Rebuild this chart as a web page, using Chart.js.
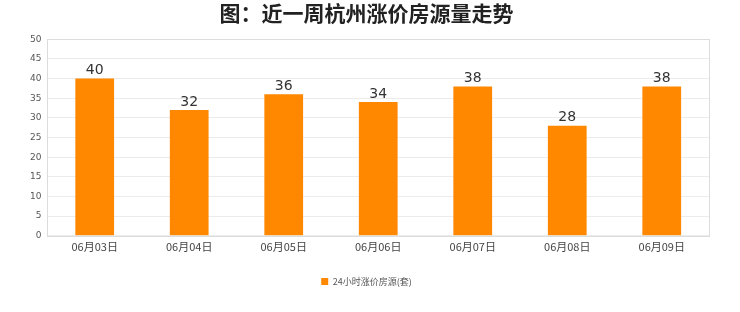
<!DOCTYPE html>
<html>
<head>
<meta charset="utf-8">
<script src="https://cdn.jsdelivr.net/npm/chart.js@4/dist/chart.umd.min.js"></script>
<style>
  html, body { margin: 0; padding: 0; background: #fff; }
  #wrap { width: 740px; height: 312px; }
</style>
</head>
<body>
<div id="wrap"><canvas id="chart" width="740" height="312"></canvas></div>
<script>
const categories = ["06月03日", "06月04日", "06月05日", "06月06日", "06月07日", "06月08日", "06月09日"];
const values = [40, 32, 36, 34, 38, 28, 38];
const seriesName = "24小时涨价房源(套)";
const titleText = "图：近一周杭州涨价房源量走势";

// value labels above each bar
const valueLabels = {
    id: "valueLabels",
    afterDatasetsDraw(chart) {
        const ctx = chart.ctx;
        const meta = chart.getDatasetMeta(0);
        ctx.save();
        ctx.font = "14px 'DejaVu Sans', sans-serif";
        ctx.fillStyle = "#333";
        ctx.textAlign = "center";
        ctx.textBaseline = "bottom";
        meta.data.forEach((bar, i) => {
            ctx.fillText(values[i], bar.x, bar.y - 1);
        });
        ctx.restore();
    }
};

// box around the plot
const plotBox = {
    id: "plotBox",
    afterDraw(chart) {
        const a = chart.chartArea;
        const ctx = chart.ctx;
        ctx.save();
        ctx.strokeStyle = "#dcdcdc";
        ctx.lineWidth = 1;
        ctx.strokeRect(Math.round(a.left) + 0.5, Math.round(a.top) + 0.5,
            Math.round(a.right - a.left), Math.round(a.bottom - a.top));
        ctx.restore();
    }
};

new Chart(document.getElementById("chart").getContext("2d"), {
    type: "bar",
    data: {
        labels: categories,
        datasets: [{
            label: seriesName,
            data: values,
            backgroundColor: "#ff8800",
            borderWidth: 0,
            categoryPercentage: 1,
            barPercentage: 0.41
        }]
    },
    options: {
        responsive: false,
        animation: false,
        layout: { padding: { left: 24, right: 31, top: 0, bottom: 16 } },
        plugins: {
            title: {
                display: true,
                text: titleText,
                color: "#222",
                font: { size: 21, weight: "bold", family: "'Noto Sans CJK SC', sans-serif" },
                padding: { top: 0, bottom: 14 }
            },
            legend: {
                position: "bottom",
                labels: {
                    boxWidth: 7,
                    boxHeight: 7,
                    color: "#555",
                    font: { size: 9, family: "'Noto Sans CJK SC', sans-serif" },
                    padding: 10
                }
            },
            tooltip: { enabled: false }
        },
        scales: {
            x: {
                grid: { display: false, drawTicks: false },
                border: { display: false },
                ticks: {
                    color: "#444",
                    font: { size: 11, family: "'Noto Sans CJK SC', sans-serif" },
                    padding: 4
                },
                afterFit(scale) { scale.height += 10; }
            },
            y: {
                min: 0,
                max: 50,
                ticks: {
                    stepSize: 5,
                    color: "#555",
                    font: { size: 9, family: "'DejaVu Sans', sans-serif" },
                    padding: 6
                },
                grid: { color: "#ececec", tickLength: 0 },
                border: { display: false }
            }
        }
    },
    plugins: [valueLabels, plotBox]
});
</script>
</body>
</html>
